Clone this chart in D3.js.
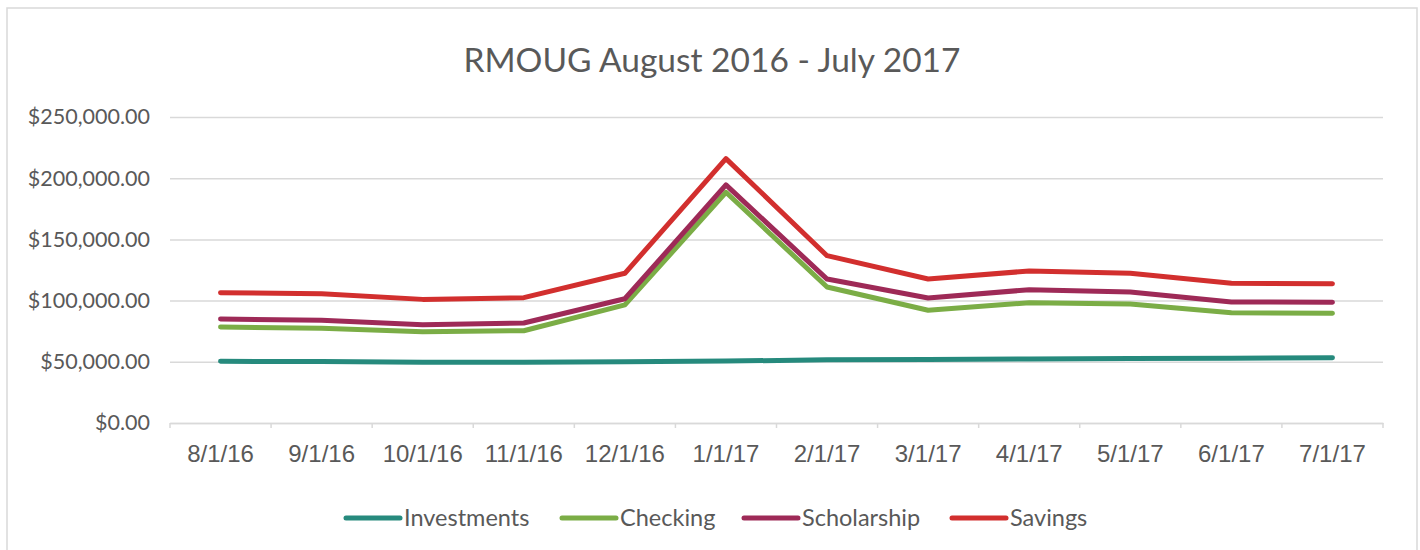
<!DOCTYPE html>
<html>
<head>
<meta charset="utf-8">
<script src="https://cdn.jsdelivr.net/npm/d3@7"></script>
<style>
  html, body { margin: 0; padding: 0; background: #fff; }
  svg { display: block; }
</style>
</head>
<body>
<svg id="chart" width="1420" height="550"></svg>
<script>
const categories = ["8/1/16","9/1/16","10/1/16","11/1/16","12/1/16","1/1/17","2/1/17","3/1/17","4/1/17","5/1/17","6/1/17","7/1/17"];
const investments = [50400, 50200, 49600, 49600, 50000, 50600, 51600, 51800, 52300, 52700, 52900, 53300];
const checking    = [78400, 77400, 74600, 75400, 96500, 188500, 111100, 92100, 98300, 97200, 90100, 89600];
const scholarship = [85000, 83900, 80300, 81700, 101500, 194500, 117600, 102100, 108900, 107000, 98900, 98700];
const savings     = [106500, 105600, 101000, 102400, 122300, 216000, 136700, 117600, 124200, 122300, 114100, 113800];
const yTicks = [0, 50000, 100000, 150000, 200000, 250000];
const seriesNames = ["Investments", "Checking", "Scholarship", "Savings"];
const seriesColors = ["#268A7D", "#7BAD46", "#9E2A57", "#D22F2E"];
const chartTitle = "RMOUG August 2016 - July 2017";

const series = [investments, checking, scholarship, savings];

const svg = d3.select("#chart");
const plotLeft = 170, plotRight = 1383, plotTop = 117, plotBottom = 423;

// outer border
svg.append("rect")
  .attr("x", 7).attr("y", 8).attr("width", 1410).attr("height", 560)
  .attr("fill", "#fff").attr("stroke", "#D9D9D9").attr("stroke-width", 1.5);

const x = d3.scaleBand().domain(categories).range([plotLeft, plotRight]).padding(0);
const y = d3.scaleLinear().domain([0, 250000]).range([plotBottom, plotTop]);

// title
svg.append("text")
  .attr("x", 712).attr("y", 72)
  .attr("text-anchor", "middle")
  .attr("font-family", "Lato, 'Open Sans', sans-serif")
  .attr("font-size", 33.5)
  .attr("fill", "#595959")
  .text(chartTitle);

// y axis with gridlines
const yAxis = svg.append("g")
  .attr("transform", `translate(${plotLeft},0)`)
  .call(d3.axisLeft(y).tickValues(yTicks).tickSize(-(plotRight - plotLeft)).tickPadding(20)
    .tickFormat(d3.format("$,.2f")));
yAxis.select(".domain").remove();
yAxis.selectAll(".tick line").attr("stroke", "#D9D9D9").attr("stroke-width", 1.5);
yAxis.selectAll(".tick text")
  .attr("font-family", "Lato, 'Open Sans', sans-serif")
  .attr("font-size", 21.5)
  .attr("fill", "#595959");

// x axis
const xAxis = svg.append("g")
  .attr("transform", `translate(0,${plotBottom})`)
  .call(d3.axisBottom(x).tickSize(0).tickPadding(22));
xAxis.select(".domain").attr("stroke", "#D9D9D9").attr("stroke-width", 1.5);
xAxis.selectAll(".tick text")
  .attr("font-family", "'Liberation Sans', Arial, sans-serif")
  .attr("font-size", 24)
  .attr("fill", "#595959");

// boundary tick marks
const boundaries = categories.map(c => x(c)).concat([x(categories[categories.length - 1]) + x.bandwidth()]);
svg.append("g").selectAll("line").data(boundaries).join("line")
  .attr("x1", d => d).attr("x2", d => d)
  .attr("y1", plotBottom).attr("y2", plotBottom + 5)
  .attr("stroke", "#D9D9D9").attr("stroke-width", 1.5);

// lines
const line = d3.line()
  .x((d, i) => x(categories[i]) + x.bandwidth() / 2)
  .y(d => y(d));

svg.append("g").selectAll("path").data(series).join("path")
  .attr("d", d => line(d))
  .attr("fill", "none")
  .attr("stroke", (d, i) => seriesColors[i])
  .attr("stroke-width", 5)
  .attr("stroke-linecap", "round")
  .attr("stroke-linejoin", "round");

// legend
const legendX = [346, 562, 744, 952];
const lg = svg.append("g").selectAll("g").data(seriesNames).join("g")
  .attr("transform", (d, i) => `translate(${legendX[i]},518)`);
lg.append("line")
  .attr("x1", 0).attr("x2", 54).attr("y1", 0).attr("y2", 0)
  .attr("stroke", (d, i) => seriesColors[i])
  .attr("stroke-width", 5).attr("stroke-linecap", "round");
lg.append("text")
  .attr("x", 58).attr("y", 0).attr("dy", "0.35em")
  .attr("font-family", "Lato, 'Open Sans', sans-serif")
  .attr("font-size", 23.5)
  .attr("fill", "#595959")
  .text(d => d);
</script>
</body>
</html>
